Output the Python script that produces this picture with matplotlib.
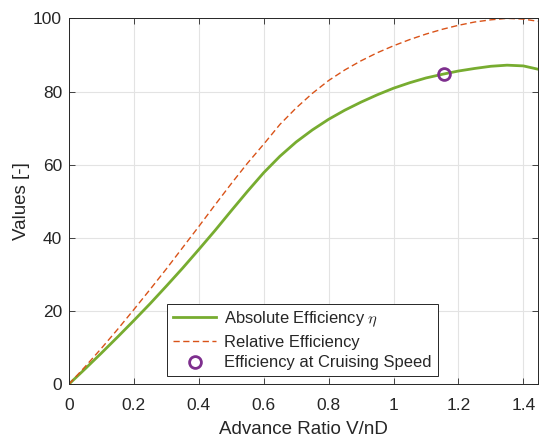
import matplotlib
matplotlib.use('Agg')
import matplotlib.pyplot as plt
import numpy as np

plt.rcParams['font.family'] = ['Liberation Sans', 'DejaVu Sans']
plt.rcParams['mathtext.fontset'] = 'cm'

# advance ratio J = V/nD
J = [0.00, 0.05, 0.10, 0.15, 0.20, 0.25, 0.30, 0.35, 0.40, 0.45,
     0.50, 0.55, 0.60, 0.65, 0.70, 0.75, 0.80, 0.85, 0.90, 0.95,
     1.00, 1.05, 1.10, 1.15, 1.20, 1.25, 1.30, 1.35, 1.40, 1.445]

# absolute efficiency eta [%]
eta_abs = [0.0, 4.2, 8.5, 12.9, 17.4, 22.0, 26.8, 31.7, 36.8, 42.0,
           47.4, 52.7, 57.8, 62.3, 66.2, 69.5, 72.4, 74.9, 77.1, 79.1,
           80.9, 82.4, 83.7, 84.7, 85.6, 86.3, 86.9, 87.2, 87.0, 86.1]

# efficiency relative to the peak [%]
eta_rel = [0.0, 4.8, 9.8, 15.0, 20.4, 25.9, 31.5, 37.3, 43.1, 49.0,
           54.8, 60.4, 65.6, 71.0, 75.5, 79.5, 83.0, 85.9, 88.4, 90.6,
           92.5, 94.2, 95.7, 97.0, 98.1, 99.0, 99.6, 100.0, 99.8, 99.2]

# cruise point
J_cruise = 1.157
eta_cruise = 84.9

c_green = '#77AC30'
c_orange = '#D95319'
c_purple = '#7E2F8E'
c_text = '#262626'

fig = plt.figure(figsize=(5.39, 4.37), dpi=100)
ax = fig.add_axes([0.128, 0.121, 0.870, 0.837])

ax.plot(J, eta_abs, color=c_green, lw=2.0, label=r'Absolute Efficiency $\eta$')
ax.plot(J, eta_rel, color=c_orange, lw=1.0, linestyle=(0, (4.5, 2.5)),
        label='Relative Efficiency')
ax.plot([J_cruise], [eta_cruise], 'o', ms=8.5, mfc='none', mec=c_purple,
        mew=2.0, label='Efficiency at Cruising Speed')

ax.set_xlim(0, 1.445)
ax.set_ylim(0, 100)
ax.set_xticks(np.arange(0, 1.41, 0.2))
ax.set_xticklabels(['0', '0.2', '0.4', '0.6', '0.8', '1', '1.2', '1.4'])
ax.set_yticks(np.arange(0, 101, 20))

ax.grid(True, color='#E3E3E3', lw=0.8)
ax.set_axisbelow(True)
ax.tick_params(direction='in', top=True, right=True, length=4,
               width=0.6, colors=c_text, labelsize=12.5)
ax.tick_params(axis='x', pad=10)
ax.tick_params(axis='y', pad=5)
for s in ax.spines.values():
    s.set_color(c_text)
    s.set_linewidth(0.7)

ax.set_xlabel('Advance Ratio V/nD', fontsize=13.5, color=c_text, labelpad=6)
ax.set_ylabel('Values [-]', fontsize=13.5, color=c_text, labelpad=2)

leg = ax.legend(loc='lower left', bbox_to_anchor=(0.21, 0.022),
                fontsize=11.9, fancybox=False, framealpha=1,
                edgecolor=c_text, borderpad=0.35, labelspacing=0.35,
                handlelength=2.6, handletextpad=0.5, borderaxespad=0)
leg.get_frame().set_linewidth(0.7)
for t in leg.get_texts():
    t.set_color(c_text)

fig.savefig('out.png', dpi=100)
